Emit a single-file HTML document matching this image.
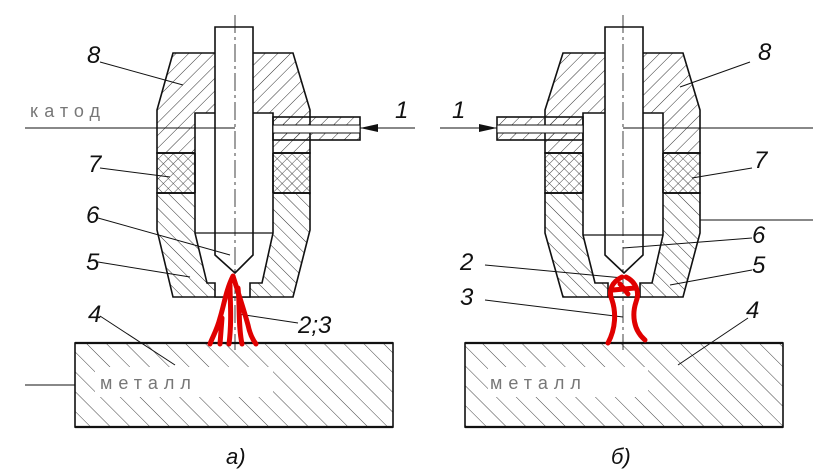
<!DOCTYPE html>
<html><head><meta charset="utf-8"><style>
html,body{margin:0;padding:0;background:#fff;width:830px;height:473px;overflow:hidden}
svg text{font-family:"Liberation Sans",sans-serif}
</style></head><body>
<svg width="830" height="473" viewBox="0 0 830 473" xmlns="http://www.w3.org/2000/svg">
<defs>
<pattern id="hA" width="9" height="9" patternUnits="userSpaceOnUse" patternTransform="rotate(45)"><line x1="0" y1="0" x2="0" y2="9" stroke="#333" stroke-width="1"/></pattern>
<pattern id="hB" width="9" height="9" patternUnits="userSpaceOnUse" patternTransform="rotate(-45)"><line x1="0" y1="0" x2="0" y2="9" stroke="#333" stroke-width="1"/></pattern>
<pattern id="hM" width="14" height="14" patternUnits="userSpaceOnUse" patternTransform="rotate(-45)"><line x1="0" y1="0" x2="0" y2="14" stroke="#444" stroke-width="1"/></pattern>
<pattern id="hX" width="7" height="7" patternUnits="userSpaceOnUse" patternTransform="rotate(45)"><line x1="0" y1="0" x2="0" y2="7" stroke="#333" stroke-width="0.9"/><line x1="0" y1="0" x2="7" y2="0" stroke="#333" stroke-width="0.9"/></pattern>
</defs>
<g stroke="#111" stroke-width="1.6" fill="none">
<rect x="75" y="343" width="318" height="84" fill="url(#hM)"/>
<line x1="75" y1="343" x2="393" y2="343" stroke-width="2.2"/>
<line x1="75" y1="427" x2="393" y2="427" stroke-width="2.2"/>
<rect x="95" y="367" width="178" height="30" fill="#fff" stroke="none"/>
<polygon points="173,53 293,53 310,110 310,153 157,153 157,110" fill="url(#hA)"/>
<rect x="157" y="153" width="153" height="40" fill="url(#hX)"/>
<polygon points="157,193 310,193 310,230 293,297 173,297 157,230" fill="url(#hB)"/>
<polygon points="195,113 273,113 273,233 262,283 250,283 250,297 215,297 215,283 207,283 195,233" fill="#fff"/>
<line x1="195" y1="153" x2="195" y2="193"/><line x1="273" y1="153" x2="273" y2="193"/>
<line x1="157" y1="153" x2="195" y2="153"/><line x1="157" y1="193" x2="195" y2="193"/>
<line x1="273" y1="153" x2="310" y2="153"/><line x1="273" y1="193" x2="310" y2="193"/>
<rect x="273" y="117" width="87" height="23" fill="url(#hA)"/>
<rect x="273" y="125" width="87" height="8" fill="#fff" stroke-width="1"/>
<path d="M215,27 H253 V255 L235,273 L215,255 Z" fill="#fff"/>
<line x1="195" y1="233" x2="273" y2="233" stroke-width="1.2"/>
<line x1="25" y1="128" x2="235" y2="128" stroke-width="1"/>
<line x1="360" y1="128" x2="415" y2="128" stroke-width="1"/>
<polygon points="360,128 378,124 378,132" fill="#111" stroke="none"/>
<line x1="25" y1="385" x2="75" y2="385" stroke-width="1"/>
<line x1="235" y1="15" x2="235" y2="350" stroke-width="0.8" stroke-dasharray="18,4,3,4"/>
<g stroke-width="1">
<line x1="100" y1="62" x2="183" y2="85"/>
<line x1="100" y1="168" x2="170" y2="177"/>
<line x1="98" y1="218" x2="230" y2="255"/>
<line x1="98" y1="262" x2="190" y2="277"/>
<line x1="100" y1="316" x2="175" y2="365"/>
<line x1="298" y1="323" x2="238" y2="314"/>
</g>
<rect x="465" y="343" width="318" height="84" fill="url(#hM)"/>
<line x1="465" y1="343" x2="783" y2="343" stroke-width="2.2"/>
<line x1="465" y1="427" x2="783" y2="427" stroke-width="2.2"/>
<rect x="488" y="367" width="160" height="30" fill="#fff" stroke="none"/>
<polygon points="563,53 683,53 700,110 700,153 545,153 545,110" fill="url(#hA)"/>
<rect x="545" y="153" width="155" height="40" fill="url(#hX)"/>
<polygon points="545,193 700,193 700,233 683,297 563,297 545,233" fill="url(#hB)"/>
<polygon points="583,113 663,113 663,235 652,283 640,283 640,297 608,297 608,283 595,283 583,235" fill="#fff"/>
<line x1="583" y1="153" x2="583" y2="193"/><line x1="663" y1="153" x2="663" y2="193"/>
<line x1="545" y1="153" x2="583" y2="153"/><line x1="545" y1="193" x2="583" y2="193"/>
<line x1="663" y1="153" x2="700" y2="153"/><line x1="663" y1="193" x2="700" y2="193"/>
<rect x="497" y="117" width="86" height="23" fill="url(#hA)"/>
<rect x="497" y="125" width="86" height="8" fill="#fff" stroke-width="1"/>
<path d="M605,27 H643 V255 L624,273 L605,255 Z" fill="#fff"/>
<line x1="583" y1="235" x2="663" y2="235" stroke-width="1.2"/>
<line x1="623" y1="128" x2="813" y2="128" stroke-width="1"/>
<line x1="440" y1="128" x2="497" y2="128" stroke-width="1"/>
<polygon points="497,128 479,124 479,132" fill="#111" stroke="none"/>
<line x1="700" y1="220" x2="813" y2="220" stroke-width="1"/>
<line x1="623" y1="15" x2="623" y2="350" stroke-width="0.8" stroke-dasharray="18,4,3,4"/>
<g stroke-width="1">
<line x1="750" y1="62" x2="680" y2="87"/>
<line x1="752" y1="168" x2="692" y2="178"/>
<line x1="752" y1="238" x2="623" y2="248"/>
<line x1="752" y1="270" x2="670" y2="285"/>
<line x1="485" y1="265" x2="623" y2="278"/>
<line x1="485" y1="300" x2="623" y2="317"/>
<line x1="748" y1="318" x2="678" y2="365"/>
</g>
</g>
<g fill="none" stroke="#e00000" stroke-width="5" stroke-linejoin="round" stroke-linecap="round">
<path d="M233,276 C226,290 224,305 220,318 C217,330 212,338 210,344 M233,276 C238,292 244,310 248,325 C250,335 253,340 256,344 M230,285 C230,300 232,320 229,344 M238,288 C240,305 238,325 242,344 M222,318 L220,344"/>
<path d="M622,277 C612,282 608,290 612,300 C616,312 616,328 608,343 M626,277 C636,282 640,292 636,302 C632,314 633,330 645,340 M620,284 L628,294 M613,290 L635,288"/>
</g>
<g fill="#111" font-style="italic" font-size="24">
<text x="87" y="63">8</text><text x="88" y="172">7</text><text x="86" y="223">6</text><text x="86" y="270">5</text><text x="88" y="322">4</text>
<text x="298" y="333">2;3</text><text x="395" y="118">1</text><text x="226" y="464" font-size="22">a)</text>
<text x="758" y="60">8</text><text x="754" y="168">7</text><text x="752" y="243">6</text><text x="752" y="273">5</text>
<text x="460" y="270">2</text><text x="460" y="305">3</text><text x="746" y="318">4</text><text x="452" y="118">1</text>
<text x="611" y="464" font-size="22">б)</text>
</g>
<g fill="#777" font-size="18" letter-spacing="6">
<text x="30" y="117">катод</text>
<text x="100" y="389">металл</text>
<text x="490" y="389">металл</text>
</g>
</svg>
</body></html>
